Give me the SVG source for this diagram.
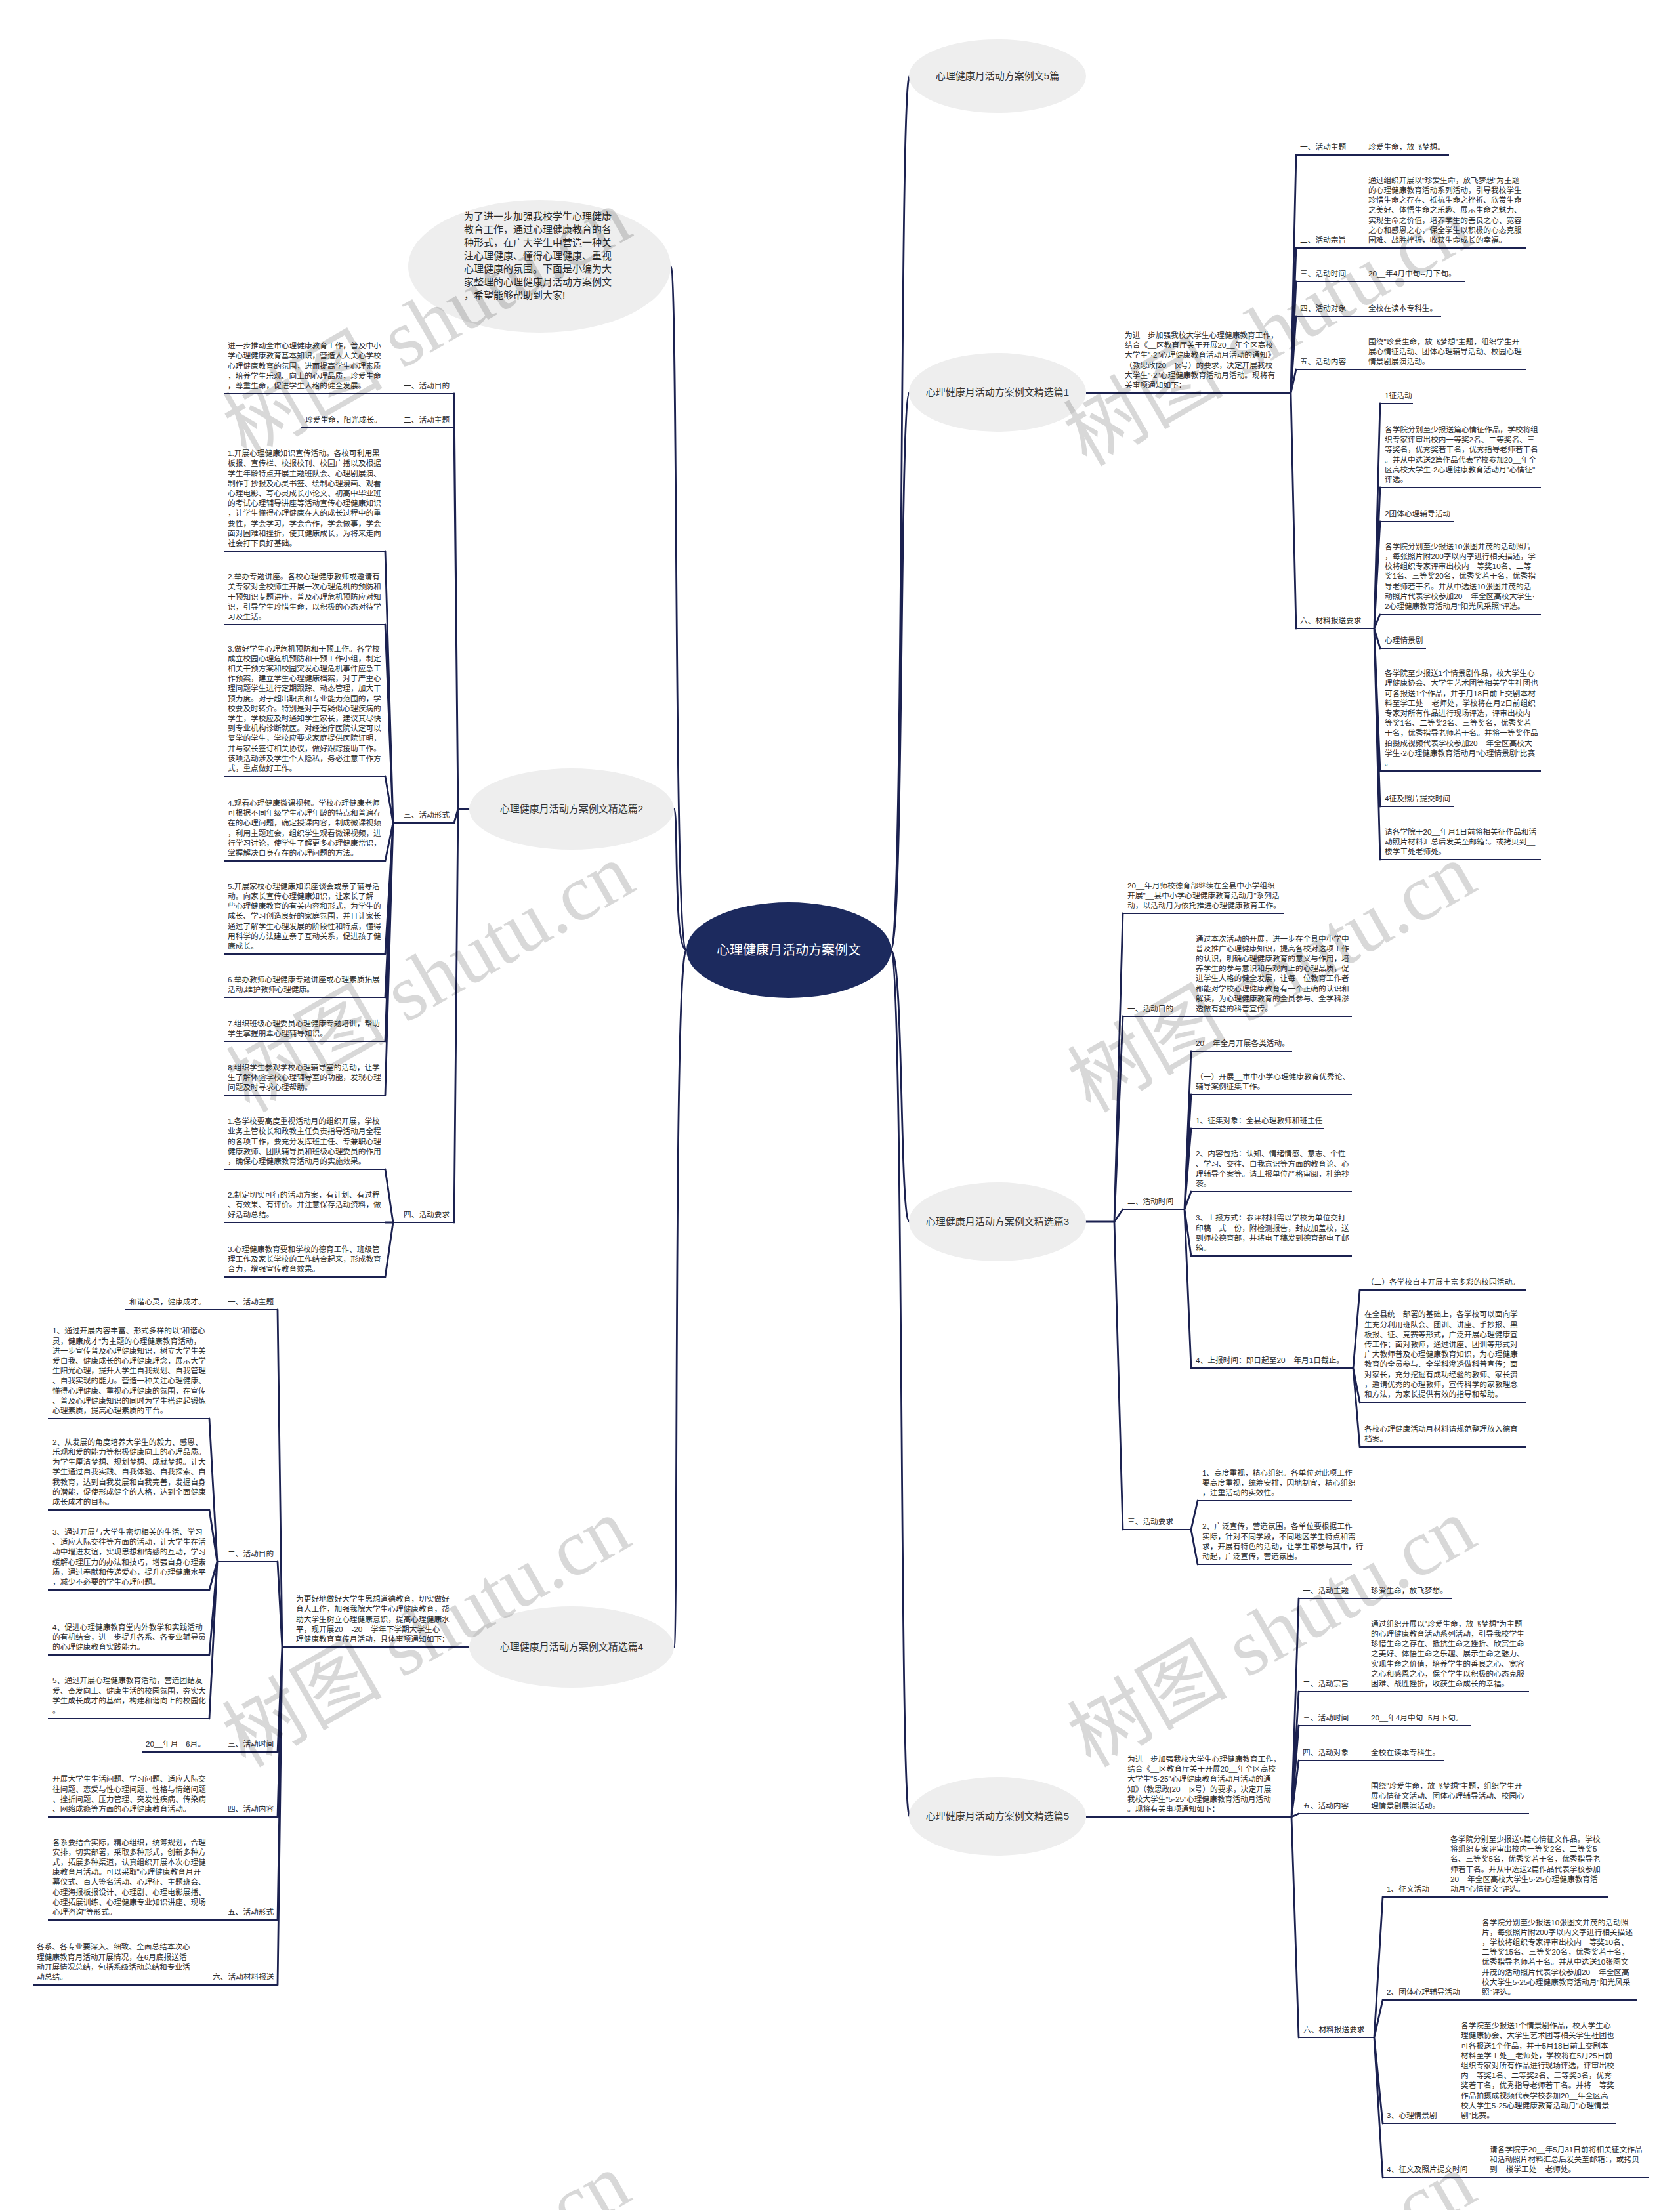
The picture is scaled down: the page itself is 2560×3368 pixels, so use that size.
<svg xmlns="http://www.w3.org/2000/svg" width="2560" height="3368" viewBox="0 0 2560 3368">
<style>
.t{font-family:"Liberation Sans","Noto Sans CJK SC",sans-serif;font-size:11.7px;fill:#2a2a2a}
.m{font-family:"Liberation Sans","Noto Sans CJK SC",sans-serif;font-size:15px;fill:#2a2a2a}
.n{font-family:"Liberation Sans","Noto Sans CJK SC",sans-serif;font-size:15px;fill:#333;text-anchor:middle}
.c{font-family:"Liberation Sans","Noto Sans CJK SC",sans-serif;font-size:20px;fill:#fff;text-anchor:middle}
.u{stroke:#1b2150;stroke-width:2.2;fill:none}
.k{stroke:#1b2150;stroke-width:2.8;fill:none;stroke-linecap:round}
.e{fill:#eeeeee}
.wm{font-family:"Liberation Serif","Noto Sans CJK SC",serif;font-size:122px;fill:#000;opacity:.15}
</style>
<rect width="2560" height="3368" fill="#fff"/>

<g id="connectors">
<path class="k" d="M1357,1448 C1378,1448 1370,116 1386,116 M1357,1448 C1378,1448 1370,598 1386,598 M1357,1448 C1378,1448 1370,1862 1386,1862 M1357,1448 C1378,1448 1370,2768 1386,2768"/>
<path class="k" d="M1046,1448 C1026,1448 1034,406 1022,406 M1046,1448 C1026,1448 1034,1233 1027,1233 M1046,1448 C1026,1448 1034,2510 1027,2510"/>
<path class="k" d="M715,1233 L698,1233 M698,1233 L692,600 M698,1233 L692,652 M698,1233 L692,1254 M698,1233 L692,1863"/>
<path class="k" d="M599,1254 L587,840 M599,1254 L587,952 M599,1254 L587,1183 M599,1254 L587,1312 M599,1254 L587,1454 M599,1254 L587,1520 M599,1254 L587,1587 M599,1254 L587,1669"/>
<path class="k" d="M599,1863 L587,1782 M599,1863 L587,1863 M599,1863 L587,1946"/>
<path class="k" d="M430,2510 L423,1996 M430,2510 L423,2380 M430,2510 L423,2670 M430,2510 L423,2769 M430,2510 L423,2926 M430,2510 L423,3025"/>
<path class="k" d="M331,2380 L319,2162 M331,2380 L319,2301 M331,2380 L319,2423 M331,2380 L319,2522 M331,2380 L319,2619"/>
<path class="k" d="M1967,599 L1975,236 M1967,599 L1975,378 M1967,599 L1975,429 M1967,599 L1975,482 M1967,599 L1975,563 M1967,599 L1975,958"/>
<path class="k" d="M2094,958 L2103,615 M2094,958 L2103,743 M2094,958 L2103,795 M2094,958 L2103,936 M2094,958 L2103,988 M2094,958 L2103,1175 M2094,958 L2103,1229 M2094,958 L2103,1310"/>
<path class="k" d="M1655,1862 L1698,1862 M1698,1862 L1711,1392 M1698,1862 L1711,1549 M1698,1862 L1711,1843 M1698,1862 L1711,2331"/>
<path class="k" d="M1805,1843 L1815,1602 M1805,1843 L1815,1668 M1805,1843 L1815,1720 M1805,1843 L1815,1816 M1805,1843 L1815,1914 M1805,1843 L1815,2085"/>
<path class="k" d="M2062,2085 L2072,1966 M2062,2085 L2072,2137 M2062,2085 L2072,2205"/>
<path class="k" d="M1815,2331 L1825,2287 M1815,2331 L1825,2384"/>
<path class="k" d="M1968,2769 L1979,2436 M1968,2769 L1979,2578 M1968,2769 L1979,2630 M1968,2769 L1979,2683 M1968,2769 L1979,2764 M1968,2769 L1979,3105"/>
<path class="k" d="M2094,3105 L2107,2891 M2094,3105 L2107,3048 M2094,3105 L2107,3236 M2094,3105 L2107,3318"/>
</g>

<g id="root"><ellipse cx="1202" cy="1448" rx="156" ry="73" fill="#1c2a5e"/><text class="c" x="1202" y="1455">心理健康月活动方案例文</text></g>

<g id="intro"><ellipse cx="822" cy="406" rx="200" ry="101" class="e"/>
<text class="m" x="707" y="335"><tspan x="707">为了进一步加强我校学生心理健康</tspan><tspan x="707" dy="20">教育工作，通过心理健康教育的各</tspan><tspan x="707" dy="20">种形式，在广大学生中营造一种关</tspan><tspan x="707" dy="20">注心理健康、懂得心理健康、重视</tspan><tspan x="707" dy="20">心理健康的氛围。下面是小编为大</tspan><tspan x="707" dy="20">家整理的心理健康月活动方案例文</tspan><tspan x="707" dy="20">，希望能够帮助到大家!</tspan></text></g>

<g id="n-top"><ellipse cx="1520" cy="116" rx="135" ry="56" class="e"/><text class="n" x="1520" y="121">心理健康月活动方案例文5篇</text></g>
<g id="n-b1"><ellipse cx="1520" cy="598" rx="135" ry="60" class="e"/><text class="n" x="1520" y="603">心理健康月活动方案例文精选篇1</text></g>
<g id="n-b3"><ellipse cx="1520" cy="1862" rx="135" ry="60" class="e"/><text class="n" x="1520" y="1867">心理健康月活动方案例文精选篇3</text></g>
<g id="n-b5"><ellipse cx="1520" cy="2768" rx="135" ry="60" class="e"/><text class="n" x="1520" y="2773">心理健康月活动方案例文精选篇5</text></g>
<g id="n-b2"><ellipse cx="871" cy="1233" rx="156" ry="62" class="e"/><text class="n" x="871" y="1238">心理健康月活动方案例文精选篇2</text></g>
<g id="n-b4"><ellipse cx="871" cy="2510" rx="156" ry="62" class="e"/><text class="n" x="871" y="2515">心理健康月活动方案例文精选篇4</text></g>

<g id="b2-1"><path class="u" d="M342,600 H692"/><text class="t" x="615" y="592">一、活动目的</text>
<text class="t" x="347" y="531.2"><tspan x="347">进一步推动全市心理健康教育工作，普及中小</tspan><tspan x="347" dy="15.2">学心理健康教育基本知识，营造人人关心学校</tspan><tspan x="347" dy="15.2">心理健康教育的氛围，进而提高学生心理素质</tspan><tspan x="347" dy="15.2">，培养学生乐观、向上的心理品质，珍爱生命</tspan><tspan x="347" dy="15.2">，尊重生命，促进学生人格的健全发展。</tspan></text></g>
<g id="b2-2"><path class="u" d="M458,652 H692"/><text class="t" x="615" y="644">二、活动主题</text><text class="t" x="465" y="644">珍爱生命，阳光成长。</text></g>
<g id="b2-3"><path class="u" d="M599,1254 H692"/><text class="t" x="615" y="1246">三、活动形式</text></g>
<g id="b2-3-1"><path class="u" d="M342,840 H587"/><text class="t" x="347" y="695.2"><tspan x="347">1.开展心理健康知识宣传活动。各校可利用黑</tspan><tspan x="347" dy="15.2">板报、宣传栏、校报校刊、校园广播以及根据</tspan><tspan x="347" dy="15.2">学生年龄特点开展主题班队会、心理剧展演、</tspan><tspan x="347" dy="15.2">制作手抄报及心灵书签、绘制心理漫画、观看</tspan><tspan x="347" dy="15.2">心理电影、写心灵成长小论文、初高中毕业班</tspan><tspan x="347" dy="15.2">的考试心理辅导讲座等活动宣传心理健康知识</tspan><tspan x="347" dy="15.2">，让学生懂得心理健康在人的成长过程中的重</tspan><tspan x="347" dy="15.2">要性，学会学习，学会合作，学会做事，学会</tspan><tspan x="347" dy="15.2">面对困难和挫折，使其健康成长，为将来走向</tspan><tspan x="347" dy="15.2">社会打下良好基础。</tspan></text></g>
<g id="b2-3-2"><path class="u" d="M342,952 H587"/><text class="t" x="347" y="883.2"><tspan x="347">2.举办专题讲座。各校心理健康教师或邀请有</tspan><tspan x="347" dy="15.2">关专家对全校师生开展一次心理危机的预防和</tspan><tspan x="347" dy="15.2">干预知识专题讲座，普及心理危机预防应对知</tspan><tspan x="347" dy="15.2">识，引导学生珍惜生命，以积极的心态对待学</tspan><tspan x="347" dy="15.2">习及生活。</tspan></text></g>
<g id="b2-3-3"><path class="u" d="M342,1183 H587"/><text class="t" x="347" y="992.6"><tspan x="347">3.做好学生心理危机预防和干预工作。各学校</tspan><tspan x="347" dy="15.2">成立校园心理危机预防和干预工作小组，制定</tspan><tspan x="347" dy="15.2">相关干预方案和校园突发心理危机事件应急工</tspan><tspan x="347" dy="15.2">作预案，建立学生心理健康档案，对于严重心</tspan><tspan x="347" dy="15.2">理问题学生进行定期跟踪、动态管理，加大干</tspan><tspan x="347" dy="15.2">预力度。对于超出职责和专业能力范围的，学</tspan><tspan x="347" dy="15.2">校要及时转介。特别是对于有疑似心理疾病的</tspan><tspan x="347" dy="15.2">学生，学校应及时通知学生家长，建议其尽快</tspan><tspan x="347" dy="15.2">到专业机构诊断就医。对经治疗医院认定可以</tspan><tspan x="347" dy="15.2">复学的学生，学校应要求家庭提供医院证明，</tspan><tspan x="347" dy="15.2">并与家长签订相关协议，做好跟踪援助工作。</tspan><tspan x="347" dy="15.2">该项活动涉及学生个人隐私，务必注意工作方</tspan><tspan x="347" dy="15.2">式，重点做好工作。</tspan></text></g>
<g id="b2-3-4"><path class="u" d="M342,1312 H587"/><text class="t" x="347" y="1228"><tspan x="347">4.观看心理健康微课视频。学校心理健康老师</tspan><tspan x="347" dy="15.2">可根据不同年级学生心理年龄的特点和普遍存</tspan><tspan x="347" dy="15.2">在的心理问题，确定授课内容，制成微课视频</tspan><tspan x="347" dy="15.2">，利用主题班会，组织学生观看微课视频，进</tspan><tspan x="347" dy="15.2">行学习讨论，使学生了解更多心理健康常识，</tspan><tspan x="347" dy="15.2">掌握解决自身存在的心理问题的方法。</tspan></text></g>
<g id="b2-3-5"><path class="u" d="M342,1454 H587"/><text class="t" x="347" y="1354.8"><tspan x="347">5.开展家校心理健康知识座谈会或亲子辅导活</tspan><tspan x="347" dy="15.2">动。向家长宣传心理健康知识，让家长了解一</tspan><tspan x="347" dy="15.2">些心理健康教育的有关内容和形式，为学生的</tspan><tspan x="347" dy="15.2">成长、学习创造良好的家庭氛围，并且让家长</tspan><tspan x="347" dy="15.2">通过了解学生心理发展的阶段性和特点，懂得</tspan><tspan x="347" dy="15.2">用科学的方法建立亲子互动关系，促进孩子健</tspan><tspan x="347" dy="15.2">康成长。</tspan></text></g>
<g id="b2-3-6"><path class="u" d="M342,1520 H587"/><text class="t" x="347" y="1496.8"><tspan x="347">6.举办教师心理健康专题讲座或心理素质拓展</tspan><tspan x="347" dy="15.2">活动,维护教师心理健康。</tspan></text></g>
<g id="b2-3-7"><path class="u" d="M342,1587 H587"/><text class="t" x="347" y="1563.8"><tspan x="347">7.组织班级心理委员心理健康专题培训，帮助</tspan><tspan x="347" dy="15.2">学生掌握朋辈心理辅导知识。</tspan></text></g>
<g id="b2-3-8"><path class="u" d="M342,1669 H587"/><text class="t" x="347" y="1630.6"><tspan x="347">8.组织学生参观学校心理辅导室的活动，让学</tspan><tspan x="347" dy="15.2">生了解体验学校心理辅导室的功能，发现心理</tspan><tspan x="347" dy="15.2">问题及时寻求心理帮助。</tspan></text></g>
<g id="b2-4"><path class="u" d="M599,1863 H692"/><text class="t" x="615" y="1855">四、活动要求</text></g>
<g id="b2-4-1"><path class="u" d="M342,1782 H587"/><text class="t" x="347" y="1713.2"><tspan x="347">1.各学校要高度重视活动月的组织开展，学校</tspan><tspan x="347" dy="15.2">业务主管校长和政教主任负责指导活动月全程</tspan><tspan x="347" dy="15.2">的各项工作，要充分发挥班主任、专兼职心理</tspan><tspan x="347" dy="15.2">健康教师、团队辅导员和班级心理委员的作用</tspan><tspan x="347" dy="15.2">，确保心理健康教育活动月的实施效果。</tspan></text></g>
<g id="b2-4-2"><path class="u" d="M342,1863 H587"/><text class="t" x="347" y="1824.6"><tspan x="347">2.制定切实可行的活动方案，有计划、有过程</tspan><tspan x="347" dy="15.2">、有效果、有评价。并注意保存活动资料，做</tspan><tspan x="347" dy="15.2">好活动总结。</tspan></text></g>
<g id="b2-4-3"><path class="u" d="M342,1946 H587"/><text class="t" x="347" y="1907.6"><tspan x="347">3.心理健康教育要和学校的德育工作、班级管</tspan><tspan x="347" dy="15.2">理工作及家长学校的工作结合起来，形成教育</tspan><tspan x="347" dy="15.2">合力，增强宣传教育效果。</tspan></text></g>

<g id="b4-intro"><path class="u" d="M430,2510 H715"/><text class="t" x="451" y="2441.2"><tspan x="451">为更好地做好大学生思想道德教育，切实做好</tspan><tspan x="451" dy="15.2">育人工作，加强我院大学生心理健康教育，帮</tspan><tspan x="451" dy="15.2">助大学生树立心理健康意识，提高心理健康水</tspan><tspan x="451" dy="15.2">平，现开展20__-20__学年下学期大学生心</tspan><tspan x="451" dy="15.2">理健康教育宣传月活动，具体事项通知如下：</tspan></text></g>
<g id="b4-1"><path class="u" d="M191,1996 H423"/><text class="t" x="347" y="1988">一、活动主题</text><text class="t" x="197" y="1988">和谐心灵，健康成才。</text></g>
<g id="b4-2"><path class="u" d="M331,2380 H423"/><text class="t" x="347" y="2372">二、活动目的</text></g>
<g id="b4-2-1"><path class="u" d="M73,2162 H319"/><text class="t" x="80" y="2032.4"><tspan x="80">1、通过开展内容丰富、形式多样的以"和谐心</tspan><tspan x="80" dy="15.2">灵，健康成才"为主题的心理健康教育活动，</tspan><tspan x="80" dy="15.2">进一步宣传普及心理健康知识，树立大学生关</tspan><tspan x="80" dy="15.2">爱自我、健康成长的心理健康理念，展示大学</tspan><tspan x="80" dy="15.2">生阳光心理，提升大学生自我规划、自我管理</tspan><tspan x="80" dy="15.2">、自我实现的能力。营造一种关注心理健康、</tspan><tspan x="80" dy="15.2">懂得心理健康、重视心理健康的氛围，在宣传</tspan><tspan x="80" dy="15.2">、普及心理健康知识的同时为学生搭建起锻炼</tspan><tspan x="80" dy="15.2">心理素质，提高心理素质的平台。</tspan></text></g>
<g id="b4-2-2"><path class="u" d="M73,2301 H319"/><text class="t" x="80" y="2201.8"><tspan x="80">2、从发展的角度培养大学生的毅力、感恩、</tspan><tspan x="80" dy="15.2">乐观和爱的能力等积极健康向上的心理品质。</tspan><tspan x="80" dy="15.2">为学生厘清梦想、规划梦想、成就梦想。让大</tspan><tspan x="80" dy="15.2">学生通过自我实践、自我体验、自我探索、自</tspan><tspan x="80" dy="15.2">我教育，达到自我发展和自我完善，发掘自身</tspan><tspan x="80" dy="15.2">的潜能，促使形成健全的人格，达到全面健康</tspan><tspan x="80" dy="15.2">成长成才的目标。</tspan></text></g>
<g id="b4-2-3"><path class="u" d="M73,2423 H319"/><text class="t" x="80" y="2339"><tspan x="80">3、通过开展与大学生密切相关的生活、学习</tspan><tspan x="80" dy="15.2">、适应人际交往等方面的活动，让大学生在活</tspan><tspan x="80" dy="15.2">动中增进友谊，实现思想和情感的互动，学习</tspan><tspan x="80" dy="15.2">缓解心理压力的办法和技巧，增强自身心理素</tspan><tspan x="80" dy="15.2">质，通过奉献和传递爱心，提升心理健康水平</tspan><tspan x="80" dy="15.2">，减少不必要的学生心理问题。</tspan></text></g>
<g id="b4-2-4"><path class="u" d="M73,2522 H319"/><text class="t" x="80" y="2483.6"><tspan x="80">4、促进心理健康教育堂内外教学和实践活动</tspan><tspan x="80" dy="15.2">的有机结合，进一步提升各系、各专业辅导员</tspan><tspan x="80" dy="15.2">的心理健康教育实践能力。</tspan></text></g>
<g id="b4-2-5"><path class="u" d="M73,2619 H319"/><text class="t" x="80" y="2565.4"><tspan x="80">5、通过开展心理健康教育活动，营造团结友</tspan><tspan x="80" dy="15.2">爱、奋发向上、健康生活的校园氛围，夯实大</tspan><tspan x="80" dy="15.2">学生成长成才的基础，构建和谐向上的校园化</tspan><tspan x="80" dy="15.2">。</tspan></text></g>
<g id="b4-3"><path class="u" d="M216,2670 H423"/><text class="t" x="347" y="2662">三、活动时间</text><text class="t" x="222" y="2662">20__年月—6月。</text></g>
<g id="b4-4"><path class="u" d="M73,2769 H423"/><text class="t" x="347" y="2761">四、活动内容</text><text class="t" x="80" y="2715.4"><tspan x="80">开展大学生生活问题、学习问题、适应人际交</tspan><tspan x="80" dy="15.2">往问题、恋爱与性心理问题、性格与情绪问题</tspan><tspan x="80" dy="15.2">、挫折问题、压力管理、突发性疾病、传染病</tspan><tspan x="80" dy="15.2">、网络成瘾等方面的心理健康教育活动。</tspan></text></g>
<g id="b4-5"><path class="u" d="M73,2926 H423"/><text class="t" x="347" y="2918">五、活动形式</text><text class="t" x="80" y="2811.6"><tspan x="80">各系要结合实际，精心组织，统筹规划，合理</tspan><tspan x="80" dy="15.2">安排，切实部署，采取多种形式，创新多种方</tspan><tspan x="80" dy="15.2">式，拓展多种渠道，认真组织开展本次心理健</tspan><tspan x="80" dy="15.2">康教育月活动。可以采取"心理健康教育月开</tspan><tspan x="80" dy="15.2">幕仪式、百人签名活动、心理征、主题班会、</tspan><tspan x="80" dy="15.2">心理海报板报设计、心理剧、心理电影展播、</tspan><tspan x="80" dy="15.2">心理拓展训练、心理健康专业知识讲座、现场</tspan><tspan x="80" dy="15.2">心理咨询"等形式。</tspan></text></g>
<g id="b4-6"><path class="u" d="M50,3025 H423"/><text class="t" x="324" y="3017">六、活动材料报送</text><text class="t" x="56" y="2971.4"><tspan x="56">各系、各专业要深入、细致、全面总结本次心</tspan><tspan x="56" dy="15.2">理健康教育月活动开展情况，在6月底报送活</tspan><tspan x="56" dy="15.2">动开展情况总结，包括系级活动总结和专业活</tspan><tspan x="56" dy="15.2">动总结。</tspan></text></g>

<g id="b1-intro"><path class="u" d="M1655,599 H1967"/><text class="t" x="1714" y="515"><tspan x="1714">为进一步加强我校大学生心理健康教育工作，</tspan><tspan x="1714" dy="15.2">结合《__区教育厅关于开展20__年全区高校</tspan><tspan x="1714" dy="15.2">大学生"·2"心理健康教育活动月活动的通知》</tspan><tspan x="1714" dy="15.2">（教思政[20__]x号）的要求，决定开展我校</tspan><tspan x="1714" dy="15.2">大学生"·2"心理健康教育活动月活动。现将有</tspan><tspan x="1714" dy="15.2">关事项通知如下：</tspan></text></g>
<g id="b1-1"><path class="u" d="M1975,236 H2208"/><text class="t" x="1981" y="228">一、活动主题</text><text class="t" x="2085" y="228">珍爱生命，放飞梦想。</text></g>
<g id="b1-2"><path class="u" d="M1975,378 H2326"/><text class="t" x="1981" y="370">二、活动宗旨</text><text class="t" x="2085" y="278.8"><tspan x="2085">通过组织开展以"珍爱生命，放飞梦想"为主题</tspan><tspan x="2085" dy="15.2">的心理健康教育活动系列活动，引导我校学生</tspan><tspan x="2085" dy="15.2">珍惜生命之存在、抵抗生命之挫折、欣赏生命</tspan><tspan x="2085" dy="15.2">之美好、体悟生命之乐趣、展示生命之魅力、</tspan><tspan x="2085" dy="15.2">实现生命之价值，培养学生的善良之心、宽容</tspan><tspan x="2085" dy="15.2">之心和感恩之心，保全学生以积极的心态克服</tspan><tspan x="2085" dy="15.2">困难、战胜挫折，收获生命成长的幸福。</tspan></text></g>
<g id="b1-3"><path class="u" d="M1975,429 H2232"/><text class="t" x="1981" y="421">三、活动时间</text><text class="t" x="2085" y="421">20__年4月中旬--月下旬。</text></g>
<g id="b1-4"><path class="u" d="M1975,482 H2196"/><text class="t" x="1981" y="474">四、活动对象</text><text class="t" x="2085" y="474">全校在读本专科生。</text></g>
<g id="b1-5"><path class="u" d="M1975,563 H2326"/><text class="t" x="1981" y="555">五、活动内容</text><text class="t" x="2085" y="524.6"><tspan x="2085">围绕"珍爱生命，放飞梦想"主题，组织学生开</tspan><tspan x="2085" dy="15.2">展心情征活动、团体心理辅导活动、校园心理</tspan><tspan x="2085" dy="15.2">情景剧展演活动。</tspan></text></g>
<g id="b1-6"><path class="u" d="M1975,958 H2094"/><text class="t" x="1981" y="950">六、材料报送要求</text></g>
<g id="b1-6-1"><path class="u" d="M2103,615 H2153"/><text class="t" x="2110" y="607">1征活动</text></g>
<g id="b1-6-2"><path class="u" d="M2103,743 H2348"/><text class="t" x="2110" y="659"><tspan x="2110">各学院分别至少报送篇心情征作品，学校将组</tspan><tspan x="2110" dy="15.2">织专家评审出校内一等奖2名、二等奖名、三</tspan><tspan x="2110" dy="15.2">等奖名，优秀奖若干名，优秀指导老师若干名</tspan><tspan x="2110" dy="15.2">。并从中选送2篇作品代表学校参加20__年全</tspan><tspan x="2110" dy="15.2">区高校大学生·2心理健康教育活动月"心情征"</tspan><tspan x="2110" dy="15.2">评选。</tspan></text></g>
<g id="b1-6-3"><path class="u" d="M2103,795 H2216"/><text class="t" x="2110" y="787">2团体心理辅导活动</text></g>
<g id="b1-6-4"><path class="u" d="M2103,936 H2348"/><text class="t" x="2110" y="836.8"><tspan x="2110">各学院分别至少报送10张图并茂的活动照片</tspan><tspan x="2110" dy="15.2">，每张照片附200字以内字进行相关描述，学</tspan><tspan x="2110" dy="15.2">校将组织专家评审出校内一等奖10名、二等</tspan><tspan x="2110" dy="15.2">奖1名、三等奖20名，优秀奖若干名，优秀指</tspan><tspan x="2110" dy="15.2">导老师若干名。并从中选送10张图并茂的活</tspan><tspan x="2110" dy="15.2">动照片代表学校参加20__年全区高校大学生·</tspan><tspan x="2110" dy="15.2">2心理健康教育活动月"阳光风采照"评选。</tspan></text></g>
<g id="b1-6-5"><path class="u" d="M2103,988 H2173"/><text class="t" x="2110" y="980">心理情景剧</text></g>
<g id="b1-6-6"><path class="u" d="M2103,1175 H2348"/><text class="t" x="2110" y="1030.2"><tspan x="2110">各学院至少报送1个情景剧作品，校大学生心</tspan><tspan x="2110" dy="15.2">理健康协会、大学生艺术团等相关学生社团也</tspan><tspan x="2110" dy="15.2">可各报送1个作品，并于月18日前上交剧本材</tspan><tspan x="2110" dy="15.2">料至学工处__老师处，学校将在月2日前组织</tspan><tspan x="2110" dy="15.2">专家对所有作品进行现场评选，评审出校内一</tspan><tspan x="2110" dy="15.2">等奖1名、二等奖2名、三等奖名，优秀奖若</tspan><tspan x="2110" dy="15.2">干名，优秀指导老师若干名。并将一等奖作品</tspan><tspan x="2110" dy="15.2">拍摄成视频代表学校参加20__年全区高校大</tspan><tspan x="2110" dy="15.2">学生·2心理健康教育活动月"心理情景剧"比赛</tspan><tspan x="2110" dy="15.2">。</tspan></text></g>
<g id="b1-6-7"><path class="u" d="M2103,1229 H2216"/><text class="t" x="2110" y="1221">4征及照片提交时间</text></g>
<g id="b1-6-8"><path class="u" d="M2103,1310 H2348"/><text class="t" x="2110" y="1271.6"><tspan x="2110">请各学院于20__年月1日前将相关征作品和活</tspan><tspan x="2110" dy="15.2">动照片材料汇总后发关至邮箱：。或拷贝到__</tspan><tspan x="2110" dy="15.2">楼学工处老师处。</tspan></text></g>

<g id="b3-intro"><path class="u" d="M1711,1392 H1957"/><text class="t" x="1718" y="1353.6"><tspan x="1718">20__年月师校德育部继续在全县中小学组织</tspan><tspan x="1718" dy="15.2">开展"__县中小学心理健康教育活动月"系列活</tspan><tspan x="1718" dy="15.2">动，以活动月为依托推进心理健康教育工作。</tspan></text></g>
<g id="b3-1"><path class="u" d="M1711,1549 H2060"/><text class="t" x="1718" y="1541">一、活动目的</text><text class="t" x="1822" y="1434.6"><tspan x="1822">通过本次活动的开展，进一步在全县中小学中</tspan><tspan x="1822" dy="15.2">普及推广心理健康知识，提高各校对这项工作</tspan><tspan x="1822" dy="15.2">的认识，明确心理健康教育的意义与作用，培</tspan><tspan x="1822" dy="15.2">养学生的参与意识和乐观向上的心理品质，促</tspan><tspan x="1822" dy="15.2">进学生人格的健全发展，让每一位教育工作者</tspan><tspan x="1822" dy="15.2">都能对学校心理健康教育有一个正确的认识和</tspan><tspan x="1822" dy="15.2">解读，为心理健康教育的全员参与、全学科渗</tspan><tspan x="1822" dy="15.2">透做有益的科普宣传。</tspan></text></g>
<g id="b3-2"><path class="u" d="M1711,1843 H1805"/><text class="t" x="1718" y="1835">二、活动时间</text></g>
<g id="b3-2-1"><path class="u" d="M1815,1602 H1969"/><text class="t" x="1822" y="1594">20__年全月开展各类活动。</text></g>
<g id="b3-2-2"><path class="u" d="M1815,1668 H2060"/><text class="t" x="1822" y="1644.8"><tspan x="1822">（一）开展__市中小学心理健康教育优秀论、</tspan><tspan x="1822" dy="15.2">辅导案例征集工作。</tspan></text></g>
<g id="b3-2-3"><path class="u" d="M1815,1720 H2018"/><text class="t" x="1822" y="1712">1、征集对象：全县心理教师和班主任</text></g>
<g id="b3-2-4"><path class="u" d="M1815,1816 H2060"/><text class="t" x="1822" y="1762.4"><tspan x="1822">2、内容包括：认知、情绪情感、意志、个性</tspan><tspan x="1822" dy="15.2">、学习、交往、自我意识等方面的教育论、心</tspan><tspan x="1822" dy="15.2">理辅导个案等。请上报单位严格审阅，杜绝抄</tspan><tspan x="1822" dy="15.2">袭。</tspan></text></g>
<g id="b3-2-5"><path class="u" d="M1815,1914 H2060"/><text class="t" x="1822" y="1860.4"><tspan x="1822">3、上报方式：参评材料需以学校为单位交打</tspan><tspan x="1822" dy="15.2">印稿一式一份，附检测报告，封皮加盖校，送</tspan><tspan x="1822" dy="15.2">到师校德育部，并将电子稿发到德育部电子邮</tspan><tspan x="1822" dy="15.2">箱。</tspan></text></g>
<g id="b3-2-6"><path class="u" d="M1815,2085 H2062"/><text class="t" x="1822" y="2077">4、上报时间：即日起至20__年月1日截止。</text></g>
<g id="b3-2-6-1"><path class="u" d="M2072,1966 H2326"/><text class="t" x="2082" y="1958">（二）各学校自主开展丰富多彩的校园活动。</text></g>
<g id="b3-2-6-2"><path class="u" d="M2072,2137 H2326"/><text class="t" x="2079" y="2007.4"><tspan x="2079">在全县统一部署的基础上，各学校可以面向学</tspan><tspan x="2079" dy="15.2">生充分利用班队会、团训、讲座、手抄报、黑</tspan><tspan x="2079" dy="15.2">板报、征、竞赛等形式，广泛开展心理健康宣</tspan><tspan x="2079" dy="15.2">传工作；面对教师，通过讲座、团训等形式对</tspan><tspan x="2079" dy="15.2">广大教师普及心理健康教育知识，为心理健康</tspan><tspan x="2079" dy="15.2">教育的全员参与、全学科渗透做科普宣传；面</tspan><tspan x="2079" dy="15.2">对家长，充分挖掘有成功经验的教师、家长资</tspan><tspan x="2079" dy="15.2">，邀请优秀的心理教师，宣传科学的家教理念</tspan><tspan x="2079" dy="15.2">和方法，为家长提供有效的指导和帮助。</tspan></text></g>
<g id="b3-2-6-3"><path class="u" d="M2072,2205 H2326"/><text class="t" x="2079" y="2181.8"><tspan x="2079">各校心理健康活动月材料请规范整理放入德育</tspan><tspan x="2079" dy="15.2">档案。</tspan></text></g>
<g id="b3-3"><path class="u" d="M1711,2331 H1815"/><text class="t" x="1718" y="2323">三、活动要求</text></g>
<g id="b3-3-1"><path class="u" d="M1825,2287 H2060"/><text class="t" x="1832" y="2248.6"><tspan x="1832">1、高度重视，精心组织。各单位对此项工作</tspan><tspan x="1832" dy="15.2">要高度重视，统筹安排，因地制宜，精心组织</tspan><tspan x="1832" dy="15.2">，注重活动的实效性。</tspan></text></g>
<g id="b3-3-2"><path class="u" d="M1825,2384 H2060"/><text class="t" x="1832" y="2330.4"><tspan x="1832">2、广泛宣传，营造氛围。各单位要根据工作</tspan><tspan x="1832" dy="15.2">实际，针对不同学段，不同地区学生特点和需</tspan><tspan x="1832" dy="15.2">求，开展有特色的活动，让学生都参与其中，行</tspan><tspan x="1832" dy="15.2">动起，广泛宣传，营造氛围。</tspan></text></g>

<g id="b5-intro"><path class="u" d="M1655,2769 H1968"/><text class="t" x="1718" y="2685"><tspan x="1718">为进一步加强我校大学生心理健康教育工作，</tspan><tspan x="1718" dy="15.2">结合《__区教育厅关于开展20__年全区高校</tspan><tspan x="1718" dy="15.2">大学生"5·25"心理健康教育活动月活动的通</tspan><tspan x="1718" dy="15.2">知》（教思政[20__]x号）的要求，决定开展</tspan><tspan x="1718" dy="15.2">我校大学生"5·25"心理健康教育活动月活动</tspan><tspan x="1718" dy="15.2">。现将有关事项通知如下：</tspan></text></g>
<g id="b5-1"><path class="u" d="M1979,2436 H2212"/><text class="t" x="1985" y="2428">一、活动主题</text><text class="t" x="2089" y="2428">珍爱生命，放飞梦想。</text></g>
<g id="b5-2"><path class="u" d="M1979,2578 H2330"/><text class="t" x="1985" y="2570">二、活动宗旨</text><text class="t" x="2089" y="2478.8"><tspan x="2089">通过组织开展以"珍爱生命，放飞梦想"为主题</tspan><tspan x="2089" dy="15.2">的心理健康教育活动系列活动，引导我校学生</tspan><tspan x="2089" dy="15.2">珍惜生命之存在、抵抗生命之挫折、欣赏生命</tspan><tspan x="2089" dy="15.2">之美好、体悟生命之乐趣、展示生命之魅力、</tspan><tspan x="2089" dy="15.2">实现生命之价值，培养学生的善良之心、宽容</tspan><tspan x="2089" dy="15.2">之心和感恩之心，保全学生以积极的心态克服</tspan><tspan x="2089" dy="15.2">困难、战胜挫折，收获生命成长的幸福。</tspan></text></g>
<g id="b5-3"><path class="u" d="M1979,2630 H2241"/><text class="t" x="1985" y="2622">三、活动时间</text><text class="t" x="2089" y="2622">20__年4月中旬--5月下旬。</text></g>
<g id="b5-4"><path class="u" d="M1979,2683 H2200"/><text class="t" x="1985" y="2675">四、活动对象</text><text class="t" x="2089" y="2675">全校在读本专科生。</text></g>
<g id="b5-5"><path class="u" d="M1979,2764 H2330"/><text class="t" x="1985" y="2756">五、活动内容</text><text class="t" x="2089" y="2725.6"><tspan x="2089">围绕"珍爱生命，放飞梦想"主题，组织学生开</tspan><tspan x="2089" dy="15.2">展心情征文活动、团体心理辅导活动、校园心</tspan><tspan x="2089" dy="15.2">理情景剧展演活动。</tspan></text></g>
<g id="b5-6"><path class="u" d="M1979,3105 H2094"/><text class="t" x="1986" y="3097">六、材料报送要求</text></g>
<g id="b5-6-1"><path class="u" d="M2107,2891 H2450"/><text class="t" x="2113" y="2883">1、征文活动</text><text class="t" x="2210" y="2807"><tspan x="2210">各学院分别至少报送5篇心情征文作品。学校</tspan><tspan x="2210" dy="15.2">将组织专家评审出校内一等奖2名、二等奖5</tspan><tspan x="2210" dy="15.2">名、三等奖5名，优秀奖若干名，优秀指导老</tspan><tspan x="2210" dy="15.2">师若干名。并从中选送2篇作品代表学校参加</tspan><tspan x="2210" dy="15.2">20__年全区高校大学生5·25心理健康教育活</tspan><tspan x="2210" dy="15.2">动月"心情征文"评选。</tspan></text></g>
<g id="b5-6-2"><path class="u" d="M2107,3048 H2495"/><text class="t" x="2113" y="3040">2、团体心理辅导活动</text><text class="t" x="2258" y="2933.6"><tspan x="2258">各学院分别至少报送10张图文并茂的活动照</tspan><tspan x="2258" dy="15.2">片，每张照片附200字以内文字进行相关描述</tspan><tspan x="2258" dy="15.2">，学校将组织专家评审出校内一等奖10名、</tspan><tspan x="2258" dy="15.2">二等奖15名、三等奖20名，优秀奖若干名，</tspan><tspan x="2258" dy="15.2">优秀指导老师若干名。并从中选送10张图文</tspan><tspan x="2258" dy="15.2">并茂的活动照片代表学校参加20__年全区高</tspan><tspan x="2258" dy="15.2">校大学生5·25心理健康教育活动月"阳光风采</tspan><tspan x="2258" dy="15.2">照"评选。</tspan></text></g>
<g id="b5-6-3"><path class="u" d="M2107,3236 H2462"/><text class="t" x="2113" y="3228">3、心理情景剧</text><text class="t" x="2226" y="3091.2"><tspan x="2226">各学院至少报送1个情景剧作品，校大学生心</tspan><tspan x="2226" dy="15.2">理健康协会、大学生艺术团等相关学生社团也</tspan><tspan x="2226" dy="15.2">可各报送1个作品，并于5月18日前上交剧本</tspan><tspan x="2226" dy="15.2">材料至学工处__老师处，学校将在5月25日前</tspan><tspan x="2226" dy="15.2">组织专家对所有作品进行现场评选，评审出校</tspan><tspan x="2226" dy="15.2">内一等奖1名、二等奖2名、三等奖3名，优秀</tspan><tspan x="2226" dy="15.2">奖若干名，优秀指导老师若干名。并将一等奖</tspan><tspan x="2226" dy="15.2">作品拍摄成视频代表学校参加20__年全区高</tspan><tspan x="2226" dy="15.2">校大学生5·25心理健康教育活动月"心理情景</tspan><tspan x="2226" dy="15.2">剧"比赛。</tspan></text></g>
<g id="b5-6-4"><path class="u" d="M2107,3318 H2512"/><text class="t" x="2113" y="3310">4、征文及照片提交时间</text><text class="t" x="2270" y="3279.6"><tspan x="2270">请各学院于20__年5月31日前将相关征文作品</tspan><tspan x="2270" dy="15.2">和活动照片材料汇总后发关至邮箱：，或拷贝</tspan><tspan x="2270" dy="15.2">到__楼学工处__老师处。</tspan></text></g>

<g id="watermarks">
<text class="wm" x="375" y="700" transform="rotate(-30 375 700)">树图 shutu.cn</text>
<text class="wm" x="1656" y="712" transform="rotate(-30 1656 712)">树图 shutu.cn</text>
<text class="wm" x="380" y="1697" transform="rotate(-30 380 1697)">树图 shutu.cn</text>
<text class="wm" x="1662" y="1697" transform="rotate(-30 1662 1697)">树图 shutu.cn</text>
<text class="wm" x="374" y="2695" transform="rotate(-30 374 2695)">树图 shutu.cn</text>
<text class="wm" x="1662" y="2695" transform="rotate(-30 1662 2695)">树图 shutu.cn</text>
<text class="wm" x="374" y="3693" transform="rotate(-30 374 3693)">树图 shutu.cn</text>
<text class="wm" x="1662" y="3693" transform="rotate(-30 1662 3693)">树图 shutu.cn</text>
</g>
</svg>
